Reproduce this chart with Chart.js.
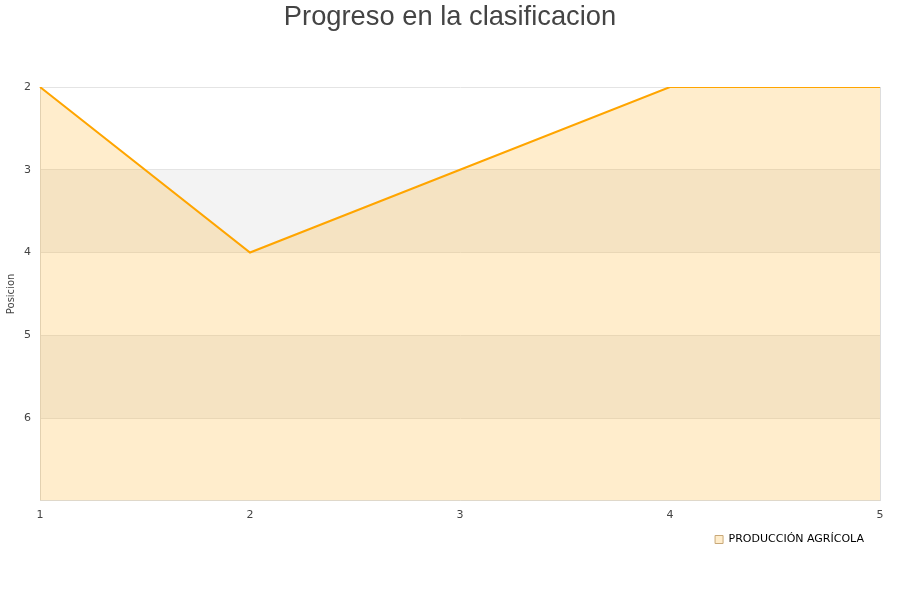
<!DOCTYPE html>
<html>
<head>
<meta charset="utf-8">
<script src="https://cdn.jsdelivr.net/npm/chart.js@4.4.0/dist/chart.umd.min.js"></script>
<style>
html,body{margin:0;padding:0;background:#fff;}
#wrap{width:900px;height:600px;position:relative;}
</style>
</head>
<body>
<div id="wrap"><canvas id="c" width="900" height="600"></canvas></div>
<script>
const chartTitle = 'Progreso en la clasificacion';
const categories = ['1', '2', '3', '4', '5'];
const positions = [2, 4, 3, 2, 2];
const seriesName = 'PRODUCCIÓN AGRÍCOLA';
const yTicks = [2, 3, 4, 5, 6];

const bandPlugin = {
  id: 'bands',
  beforeDraw(chart) {
    const {ctx, chartArea: a, scales: {y}} = chart;
    ctx.save();
    ctx.fillStyle = '#f3f3f3';
    [[3, 4], [5, 6]].forEach(([s, e]) => {
      const y1 = y.getPixelForValue(s), y2 = y.getPixelForValue(e);
      ctx.fillRect(a.left, Math.min(y1, y2), a.right - a.left, Math.abs(y2 - y1));
    });
    ctx.restore();
  },
  afterDatasetsDraw(chart) {
    const {ctx, chartArea: a} = chart;
    ctx.save();
    ctx.strokeStyle = '#dddddd';
    ctx.lineWidth = 1;
    ctx.beginPath();
    ctx.moveTo(a.right + 0.5, a.top);
    ctx.lineTo(a.right + 0.5, a.bottom);
    ctx.stroke();
    ctx.restore();
  },
  afterDraw(chart) {
    const {ctx} = chart;
    ctx.save();
    ctx.fillStyle = '#444444';
    ctx.font = '27.3px "Liberation Sans", Arial, sans-serif';
    ctx.textAlign = 'center';
    ctx.textBaseline = 'alphabetic';
    ctx.fillText(chartTitle, chart.width / 2, 25);
    ctx.restore();
  }
};

new Chart(document.getElementById('c'), {
  type: 'line',
  data: {
    labels: categories,
    datasets: [{
      label: seriesName,
      data: positions,
      borderColor: '#ffa500',
      backgroundColor: 'rgba(255,165,0,0.2)',
      borderWidth: 2,
      pointRadius: 0,
      tension: 0,
      fill: 'start'
    }]
  },
  options: {
    responsive: false,
    animation: false,
    layout: {padding: {left: 0, right: 20, top: 87, bottom: 45}},
    plugins: {
      title: {display: false},
      legend: {
        position: 'bottom',
        align: 'end',
        labels: {
          boxWidth: 8,
          boxHeight: 8,
          padding: 16,
          color: '#222222',
          font: {family: 'DejaVu Sans, sans-serif', size: 11},
          generateLabels(chart) {
            return [{
              text: seriesName,
              fillStyle: '#ffedcc',
              strokeStyle: '#c8a878',
              lineWidth: 1,
              datasetIndex: 0
            }];
          }
        }
      },
      tooltip: {enabled: false}
    },
    scales: {
      x: {
        offset: false,
        afterFit(scale) { scale.height = Math.max(0, scale.height - 12); },
        grid: {display: false, drawTicks: false},
        border: {display: true, color: '#dddddd'},
        ticks: {
          color: '#444444',
          font: {family: 'DejaVu Sans, sans-serif', size: 11},
          padding: 8,
          maxRotation: 0
        }
      },
      y: {
        reverse: true,
        min: 2,
        max: 7,
        afterBuildTicks(scale) {
          scale.ticks = yTicks.concat([7]).map(v => ({value: v}));
        },
        afterFit(scale) { scale.width = 40; },
        grid: {color: '#e4e4e4', drawTicks: false},
        border: {display: true, color: '#dddddd'},
        ticks: {
          color: '#444444',
          font: {family: 'DejaVu Sans, sans-serif', size: 11},
          padding: 9,
          callback: v => yTicks.includes(v) ? String(v) : ''
        },
        title: {
          display: true,
          text: 'Posicion',
          color: '#444444',
          font: {family: 'DejaVu Sans, sans-serif', size: 10},
          padding: {top: 5, bottom: 4}
        }
      }
    }
  },
  plugins: [bandPlugin]
});
</script>
</body>
</html>
